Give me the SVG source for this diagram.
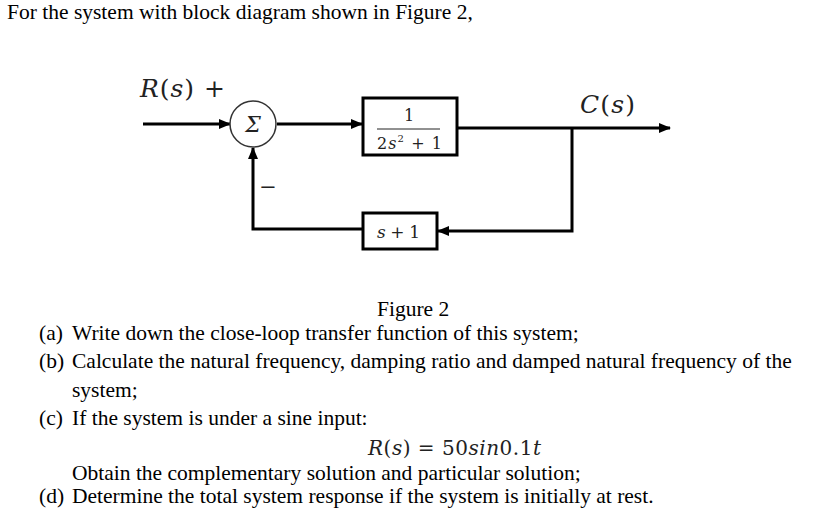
<svg xmlns="http://www.w3.org/2000/svg" width="817" height="526" viewBox="0 0 817 526">
<style>
.t{font-family:"Liberation Serif","Times New Roman",serif;font-size:21.5px;fill:#000}
.m{font-family:"DejaVu Serif","Cambria Math",serif;fill:#222}
.i{font-style:italic}
.w{stroke:#000;stroke-width:3;fill:none}
.b{stroke:#000;stroke-width:3;fill:#fff}
</style>
<defs>
<marker id="ah" markerUnits="userSpaceOnUse" markerWidth="12" markerHeight="10" refX="11" refY="5" orient="auto">
<path d="M0,0 L12,5 L0,10 Z" fill="#000"/>
</marker>
</defs>
<rect width="817" height="526" fill="#fff"/>
<text class="t" x="7" y="19">For the system with block diagram shown in Figure 2,</text>

<g id="connectors">
<line class="w" x1="143" y1="124" x2="230" y2="124" marker-end="url(#ah)"/>
<line class="w" x1="277" y1="124" x2="362" y2="124" marker-end="url(#ah)"/>
<line class="w" x1="457" y1="128" x2="670" y2="128" marker-end="url(#ah)"/>
<path class="w" d="M572,128 V231 H438" marker-end="url(#ah)"/>
<path class="w" d="M363,229 H253 V148" marker-end="url(#ah)"/>
</g>

<g id="sum">
<circle cx="253" cy="124" r="23" fill="#fff" stroke="#333" stroke-width="1.5"/>
<text class="m i" x="253" y="132" font-size="22" text-anchor="middle">Σ</text>
</g>
<g id="labels">
<text class="m" x="140" y="97" font-size="25" textLength="85" lengthAdjust="spacing"><tspan class="i">R</tspan>(<tspan class="i">s</tspan>) +</text>
<text class="m" x="580" y="113" font-size="25" textLength="55" lengthAdjust="spacing"><tspan class="i">C</tspan>(<tspan class="i">s</tspan>)</text>
<text class="m" x="268" y="194" font-size="21" text-anchor="middle">−</text>
</g>
<g id="plant">
<rect class="b" x="363" y="98" width="94" height="57"/>
<text class="m" x="409" y="121" font-size="16" text-anchor="middle">1</text>
<line x1="377" y1="129" x2="440" y2="129" stroke="#222" stroke-width="1"/>
<text class="m" x="377" y="149" font-size="16" textLength="65" lengthAdjust="spacing">2<tspan class="i">s</tspan><tspan font-size="10" dy="-7">2</tspan><tspan dy="7"> + 1</tspan></text>
</g>
<g id="feedback">
<rect class="b" x="363" y="213" width="74" height="36"/>
<text class="m" x="377" y="238" font-size="17" textLength="43" lengthAdjust="spacing"><tspan class="i">s</tspan> + 1</text>
</g>

<text class="t" x="377" y="316">Figure 2</text>
<text class="t" x="39" y="340">(a)</text>
<text class="t" x="72" y="340">Write down the close-loop transfer function of this system;</text>
<text class="t" x="39" y="368">(b)</text>
<text class="t" x="72" y="368">Calculate the natural frequency, damping ratio and damped natural frequency of the</text>
<text class="t" x="72" y="397">system;</text>
<text class="t" x="39" y="425">(c)</text>
<text class="t" x="72" y="425">If the system is under a sine input:</text>
<text class="m" x="368" y="455" font-size="20" fill="#000" textLength="173" lengthAdjust="spacing"><tspan class="i">R</tspan>(<tspan class="i">s</tspan>) = 50<tspan class="i">sin</tspan>0.1<tspan class="i">t</tspan></text>
<text class="t" x="72" y="480">Obtain the complementary solution and particular solution;</text>
<text class="t" x="39" y="503">(d)</text>
<text class="t" x="72" y="503">Determine the total system response if the system is initially at rest.</text>
</svg>
